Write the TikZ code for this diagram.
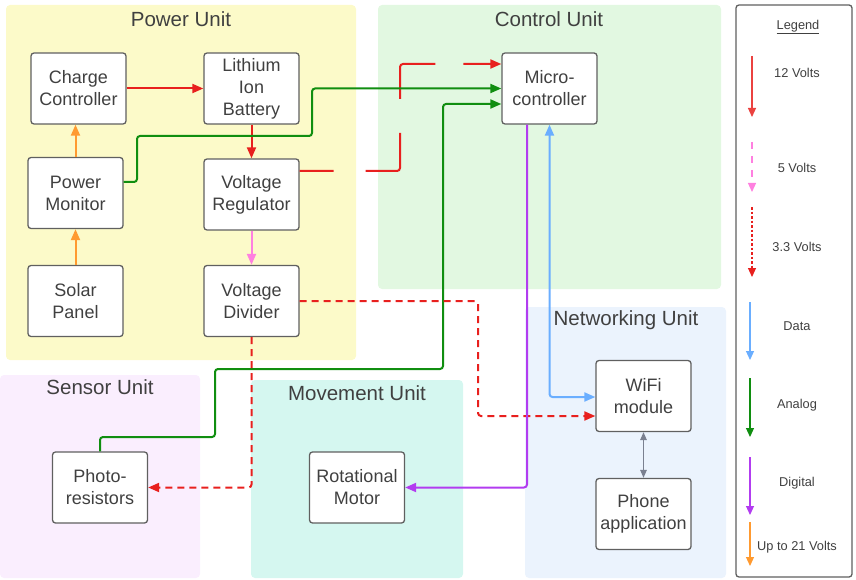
\documentclass[tikz,border=0pt]{standalone}
\usepackage{fontspec}
\setmainfont{Liberation Sans}
\usetikzlibrary{arrows.meta}
\definecolor{txt}{HTML}{404040}
\definecolor{bord}{HTML}{606060}
\definecolor{fyellow}{HTML}{FCFAC9}
\definecolor{fgreen}{HTML}{E2F8E1}
\definecolor{fpink}{HTML}{FAEEFE}
\definecolor{fteal}{HTML}{D5F7F0}
\definecolor{fblue}{HTML}{EBF3FD}
\definecolor{cred}{HTML}{E8201E}
\definecolor{cgreen}{HTML}{108E10}
\definecolor{cblue}{HTML}{6AAEFF}
\definecolor{cpurple}{HTML}{B23CF0}
\definecolor{cpink}{HTML}{FF80E0}
\definecolor{corange}{HTML}{FF9A30}
\definecolor{cgray}{HTML}{7A8090}
\tikzset{
  unitbox/.style={draw=bord, fill=white, rounded corners=3pt, line width=1.3pt,
    minimum width=95pt, minimum height=71pt, inner sep=0pt, align=center,
    text=txt, font=\fontsize{18}{22}\selectfont},
  region/.style={rounded corners=4pt, draw=none},
  rtitle/.style={text=txt, font=\fontsize{20.5}{24}\selectfont, inner sep=0pt},
  wire/.style={line width=2pt, rounded corners=3pt, -{Triangle[length=11pt,width=9pt]}},
  lwire/.style={line width=1.2pt, -{Triangle[length=9pt,width=8pt]}},
  ltext/.style={text=txt, font=\fontsize{12.8}{15}\selectfont, inner sep=0pt},
}
\begin{document}
\begin{tikzpicture}[x=1pt,y=-1pt]
\useasboundingbox (0,0) rectangle (856,580);
% regions
\fill[region, fyellow] (6,5) rectangle (356,360);
\fill[region, fgreen] (378,5) rectangle (721,289);
\fill[region, fpink] (0,375) rectangle (200,578);
\fill[region, fteal] (251,380) rectangle (463,578);
\fill[region, fblue] (525,307) rectangle (726,578);
\node[rtitle] (tpower) at (181,19) {Power Unit};
\node[rtitle] (tcontrol) at (549,19) {Control Unit};
\node[rtitle] (tsensor) at (100,387) {Sensor Unit};
\node[rtitle] (tmove) at (357,393) {Movement Unit};
\node[rtitle] (tnet) at (626,320) {Networking Unit};
% boxes
\node[unitbox] (cc) at (78.5,88.5) {Charge\\Controller};
\node[unitbox] (lib) at (251.5,88.5) {Lithium\\Ion\\Battery};
\node[unitbox] (pm) at (75.5,193) {Power\\Monitor};
\node[unitbox] (vr) at (251.5,194.5) {Voltage\\Regulator};
\node[unitbox] (sp) at (75.5,301) {Solar\\Panel};
\node[unitbox] (vd) at (251.5,301) {Voltage\\Divider};
\node[unitbox] (mc) at (549.5,88.5) {Micro-\\controller};
\node[unitbox] (wifi) at (643.5,396) {WiFi\\module};
\node[unitbox] (phone) at (643.5,514) {Phone\\application};
\node[unitbox] (photo) at (100,487.5) {Photo-\\resistors};
\node[unitbox] (motor) at (357,487.5) {Rotational\\Motor};
% connectors
\draw[wire, cred] (cc.east) -- (lib.west);
\draw[wire, cred] (lib.south) -- (vr.north);
\draw[wire, cred, dash pattern={on 34pt off 32pt on 71pt off 34pt on 69pt off 28pt on 100pt}]
  ([yshift=23.5pt]vr.east) -- (400,171) -- (400,64) -- ([yshift=24.5pt]mc.west);
\draw[wire, cgreen] ([yshift=11pt]pm.east) -- (137,182) -- (137,136) -- (312,136) -- (312,88.5) -- (mc.west);
\draw[wire, cgreen] (photo.north) -- (100,437) -- (215,437) -- (215,369) -- (443,369) -- (443,104) -- ([yshift=-15.5pt]mc.west);
\draw[wire, corange] (pm.north) -- (pm.north |- cc.south);
\draw[wire, corange] (sp.north) -- (pm.south);
\draw[wire, cpink] (vr.south) -- (vd.north);
\draw[wire, cred, dash pattern={on 7pt off 5pt}] (vd.east) -- (478,301) -- (478,416) -- ([yshift=-20pt]wifi.west);
\draw[wire, cred, dash pattern={on 7pt off 5pt}] (vd.south) |- (photo.east);
\draw[wire, cpurple] ([xshift=-22.5pt]mc.south) |- (motor.east);
\draw[wire, cblue, {Triangle[length=11pt,width=9pt]}-{Triangle[length=11pt,width=9pt]}] (mc.south) |- ([yshift=-1pt]wifi.west);
\draw[cgray, line width=1.3pt, {Triangle[length=8pt,width=6.5pt]}-{Triangle[length=8pt,width=6.5pt]}] (wifi.south) -- (phone.north);
% legend
\draw[bord, line width=1.3pt, rounded corners=3pt, fill=white] (736,5) rectangle (852,577);
\node[ltext] (lt) at (798,27) {\underline{Legend}};
\coordinate (l1a) at (752,56); \coordinate (l1b) at (752,117);
\coordinate (l2a) at (752,142); \coordinate (l2b) at (752,192);
\coordinate (l3a) at (752,207); \coordinate (l3b) at (752,277);
\coordinate (l4a) at (750,302); \coordinate (l4b) at (750,360);
\coordinate (l5a) at (750,378); \coordinate (l5b) at (750,437);
\coordinate (l6a) at (750,457); \coordinate (l6b) at (750,515);
\coordinate (l7a) at (750,522); \coordinate (l7b) at (750,566);
\draw[lwire, cred!85] (l1a) -- (l1b);
\draw[lwire, cpink, dash pattern={on 7pt off 7pt}] (l2a) -- (l2b);
\draw[lwire, cred, dash pattern={on 2.5pt off 2pt}] (l3a) -- (l3b);
\draw[lwire, cblue] (l4a) -- (l4b);
\draw[lwire, cgreen] (l5a) -- (l5b);
\draw[lwire, cpurple] (l6a) -- (l6b);
\draw[lwire, corange] (l7a) -- (l7b);
\node[ltext] (lx1) at (797,73) {12 Volts};
\node[ltext] (lx2) at (797,168) {5 Volts};
\node[ltext] (lx3) at (797,247) {3.3 Volts};
\node[ltext] (lx4) at (797,326) {Data};
\node[ltext] (lx5) at (797,405) {Analog};
\node[ltext] (lx6) at (797,483) {Digital};
\node[ltext] (lx7) at (797,547) {Up to 21 Volts};
\end{tikzpicture}
\end{document}
